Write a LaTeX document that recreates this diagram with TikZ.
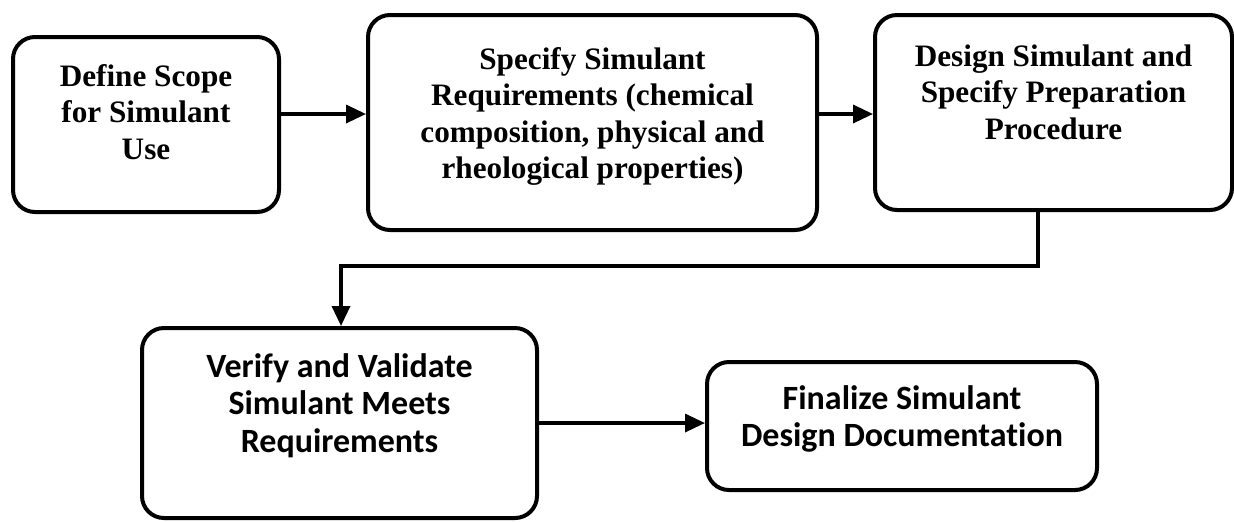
\documentclass[tikz,border=0pt]{standalone}
\usepackage{fontspec}
\setmainfont{Liberation Serif}
\newfontfamily\calibfont[Ligatures=NoCommon]{Carlito}
\usetikzlibrary{arrows.meta}

\begin{document}
\begin{tikzpicture}[x=0.5pt, y=-0.5pt,
	stage/.style={draw, line width=2pt, rounded corners=11pt, inner sep=0pt},
	toptext/.style={anchor=north, inner sep=0pt, align=center, font=\fontsize{15.6}{18.25}\selectfont\bfseries},
	lowtext/.style={toptext, font=\calibfont\fontsize{17}{18.75}\selectfont\bfseries},
	flow/.style={-{Triangle[length=10pt,width=9pt]}, line width=1.7pt}]
	\useasboundingbox (0,0) rectangle (1234,521);

	\node (scope) [stage, minimum width=133pt, minimum height=87.5pt,
	label={[toptext, yshift=-14.5pt]north:{Define Scope\\for Simulant\\Use}}] at (146,124.5) {};
	\node (reqs) [stage, minimum width=224.5pt, minimum height=107.5pt,
	label={[toptext, yshift=-17pt]north:{Specify Simulant\\Requirements (chemical\\composition, physical and\\rheological properties)}}] at (592.5,122.5) {};
	\node (design) [stage, minimum width=178.5pt, minimum height=97.5pt,
	label={[toptext, yshift=-15.5pt]north:{Design Simulant and\\Specify Preparation\\Procedure}}] at (1053.5,112.5) {};
	\node (verify) [stage, minimum width=197.5pt, minimum height=95pt,
	label={[lowtext, yshift=-13.5pt]north:{Verify and Validate\\Simulant Meets\\Requirements}}] at (339.5,423) {};
	\node (final) [stage, minimum width=195pt, minimum height=64pt,
	label={[lowtext, yshift=-12.5pt]north:{Finalize Simulant\\Design Documentation}}] at (902,426) {};

	\coordinate (rowA) at (0,114);
	\coordinate (rowB) at (0,423);
	\coordinate (turnR) at (1038,266);
	\coordinate (turnL) at (341,266);

	\draw [flow] (scope.east |- rowA) -- (reqs.west |- rowA);
	\draw [flow] (reqs.east |- rowA) -- (design.west |- rowA);
	\draw [flow] (design.south -| turnR) -- (turnR) -- (turnL) -- (verify.north -| turnL);
	\draw [flow] (verify.east |- rowB) -- (final.west |- rowB);
\end{tikzpicture}
\end{document}
